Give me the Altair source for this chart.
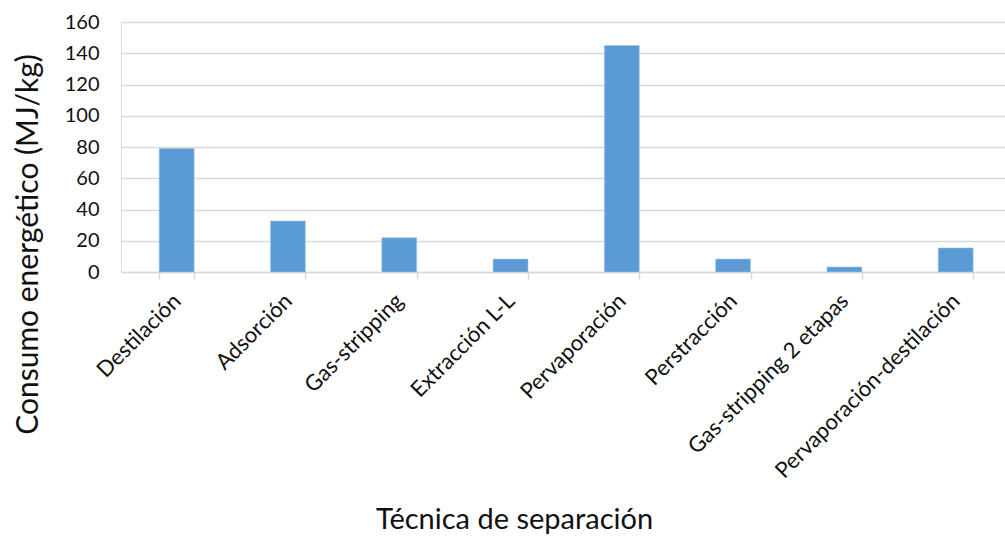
import altair as alt
import pandas as pd

# Energy consumption per separation technique (MJ/kg)
tecnicas = [
    "Destilación",
    "Adsorción",
    "Gas-stripping",
    "Extracción L-L",
    "Pervaporación",
    "Perstracción",
    "Gas-stripping 2 etapas",
    "Pervaporación-destilación",
]
consumo = [79, 32.7, 22, 8.3, 145, 8.3, 3.2, 15.4]

y_ticks = [0, 20, 40, 60, 80, 100, 120, 140, 160]

df = pd.DataFrame({"tecnica": tecnicas, "consumo": consumo})

FONT = "Lato"
GRID = "#D9D9D9"
TEXT = "#111111"

bars = (
    alt.Chart(df)
    .mark_bar(color="#5B9BD5", stroke="#A9C8EA", strokeWidth=0.6)
    .encode(
        x=alt.X(
            "tecnica:N",
            sort=tecnicas,
            scale=alt.Scale(paddingInner=0.6857, paddingOuter=0.3144, align=0.5453),
            axis=alt.Axis(
                title="Técnica de separación",
                titleFont=FONT,
                titleFontSize=29,
                titleFontWeight="normal",
                titleColor=TEXT,
                titleX=393,
                titleY=256,
                titleBaseline="alphabetic",
                labelFont=FONT,
                labelFontSize=22,
                labelColor=TEXT,
                labelAngle=-45,
                labelAlign="right",
                labelBaseline="middle",
                labelPadding=18,
                labelOverlap=False,
                labelLimit=400,
                tickBand="extent",
                tickColor=GRID,
                tickSize=7,
                tickWidth=1.5,
                domainColor=GRID,
                domainWidth=1.5,
                grid=False,
            ),
        ),
        y=alt.Y(
            "consumo:Q",
            scale=alt.Scale(domain=[0, 160], nice=False),
            axis=alt.Axis(
                title="Consumo energético (MJ/kg)",
                titleFont=FONT,
                titleFontSize=30,
                titleFontWeight="normal",
                titleColor=TEXT,
                titleAngle=-90,
                titleX=-93,
                titleY=222,
                titleAlign="center",
                titleBaseline="middle",
                values=y_ticks,
                labelFont=FONT,
                labelFontSize=20,
                labelColor=TEXT,
                labelPadding=22,
                ticks=False,
                domain=False,
                grid=True,
                gridColor=GRID,
                gridWidth=1.5,
            ),
        ),
    )
)

chart = (
    bars.properties(width=884, height=250)
    .properties(
        autosize=alt.AutoSizeParams(type="none"),
        padding={"left": 121, "top": 22, "right": 0, "bottom": 266},
    )
    .configure_view(stroke=None)
    .configure(background="white")
)

chart.save("out.html", embed_options={"renderer": "svg", "actions": False})
